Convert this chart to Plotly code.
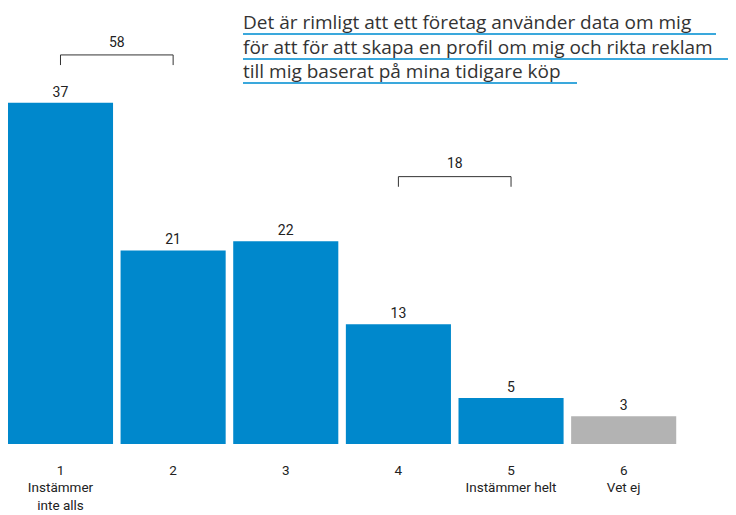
import plotly.graph_objects as go

categories = ["1", "2", "3", "4", "5", "6"]
tick_labels = ["1<br>Instämmer<br>inte alls", "2", "3", "4", "5<br>Instämmer helt", "6<br>Vet ej"]
values = [37, 21, 22, 13, 5, 3]
bar_colors = ["#0088cc"] * 5 + ["#b3b3b3"]
title_lines = [
    "Det är rimligt att ett företag använder data om mig",
    "för att för att skapa en profil om mig och rikta reklam",
    "till mig baserat på mina tidigare köp",
]
bracket_pairs = [(0, 1), (3, 4)]
bracket_totals = [58, 18]
bracket_levels = [42.2, 29.0]

# page body has an 8px margin; figure offset by it inside the 736x515 window
OFF = 8
W, H = 736 - OFF, 515 - OFF
L, R, T, B = 0, 56, 0, 71
pw, ph = W - L - R, H - T - B
XMIN, XMAX = -0.466, 5.5
YMAX = 47.29


def px(x):
    return (x - OFF - L) / pw


def py(y):
    return (T + ph - (y - OFF)) / ph


x = list(range(len(categories)))
fig = go.Figure()
fig.add_trace(go.Bar(
    x=x, y=values, marker_color=bar_colors, marker_line_width=0,
    text=[str(v) for v in values], textposition="outside",
    textfont=dict(size=14, color="#222", family="Roboto"),
    cliponaxis=False, width=0.933,
))

shapes = []
annotations = []
for (a, b), total, lvl in zip(bracket_pairs, bracket_totals, bracket_levels):
    shapes.append(dict(type="path", xref="x", yref="y",
                       path=f"M {a},{lvl - 1.1} L {a},{lvl} L {b},{lvl} L {b},{lvl - 1.1}",
                       line=dict(color="#333", width=1)))
    annotations.append(dict(x=(a + b) / 2, y=lvl + 1.45, xref="x", yref="y", text=str(total),
                            showarrow=False, yanchor="middle",
                            font=dict(size=14, color="#222", family="Roboto")))

line_y = [22, 47, 71]
underline_y = [34, 59, 83]
underline_end = [716, 735, 577]
for t, ly, uy, ue in zip(title_lines, line_y, underline_y, underline_end):
    annotations.append(dict(x=px(241), y=py(ly), xref="paper", yref="paper", text=t,
                            showarrow=False, xanchor="left", yanchor="middle",
                            font=dict(size=19, color="#333", family="Open Sans")))
    shapes.append(dict(type="line", xref="paper", yref="paper", x0=px(243), x1=px(ue),
                       y0=py(uy), y1=py(uy), line=dict(color="#3aa8dc", width=2)))

fig.update_layout(
    width=W, height=H, margin=dict(l=L, r=R, t=T, b=B, autoexpand=False),
    plot_bgcolor="white", paper_bgcolor="white",
    showlegend=False, shapes=shapes, annotations=annotations,
    xaxis=dict(range=[XMIN, XMAX], tickvals=x, ticktext=tick_labels, showgrid=False,
               zeroline=False, showline=False, ticks="", ticklabelstandoff=16,
               automargin=False,
               tickfont=dict(size=13.5, color="#222", family="Roboto")),
    yaxis=dict(range=[0, YMAX], visible=False, showgrid=False, zeroline=False,
               automargin=False),
    bargap=0.067,
)
fig.write_html("out.html")
